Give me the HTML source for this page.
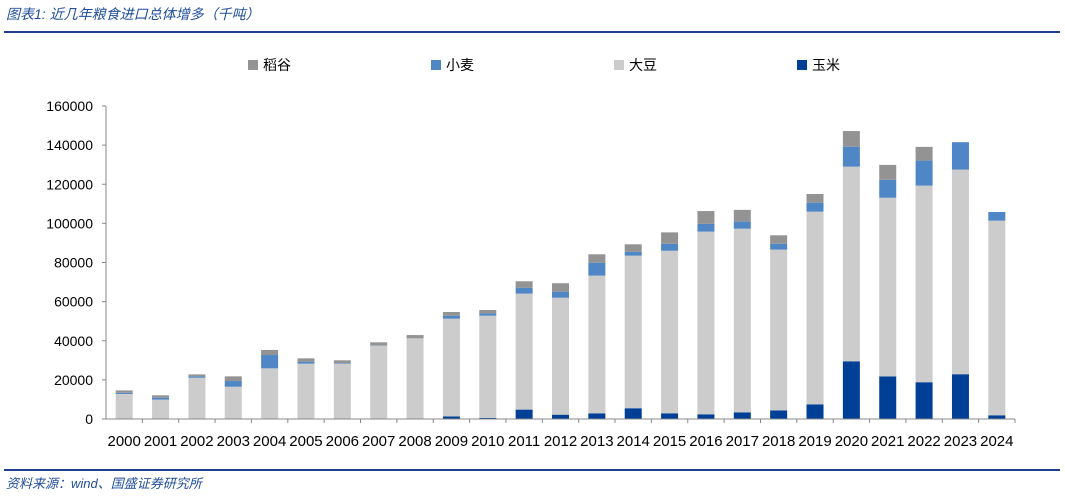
<!DOCTYPE html>
<html><head><meta charset="utf-8"><style>
body{margin:0;background:#fff;width:1065px;height:496px;overflow:hidden;font-family:"Liberation Sans","Noto Sans CJK SC",sans-serif}
svg{display:block}
</style></head><body>
<svg width="1065" height="496">
<text x="6" y="19" font-size="14" font-style="italic" fill="#1F4E9A" font-family="Liberation Sans,Noto Sans CJK SC,sans-serif">图表1: 近几年粮食进口总体增多（千吨）</text>
<line x1="4" y1="32" x2="1060" y2="32" stroke="#1F3F8F" stroke-width="2"/>
<line x1="4" y1="470" x2="1060" y2="470" stroke="#1F3F8F" stroke-width="2"/>
<text x="6" y="488" font-size="13" font-style="italic" fill="#1F4E9A" font-family="Liberation Sans,Noto Sans CJK SC,sans-serif">资料来源：wind、国盛证券研究所</text>
<g id="legend"></g>
<g id="plot"></g>
</svg>
<script>
const years=["2000","2001","2002","2003","2004","2005","2006","2007","2008","2009","2010","2011","2012","2013","2014","2015","2016","2017","2018","2019","2020","2021","2022","2023","2024"];
const corn=[0,0,0,0,0,0,0,0,0,1.3,0.6,4.8,2.2,2.9,5.5,2.9,2.4,3.4,4.4,7.5,29.5,21.8,18.8,22.9,1.9];
const soy=[12.8,9.9,21.1,16.5,25.9,28.3,28.3,37.5,41.2,50.0,52.2,59.3,59.8,70.4,78.0,83.1,93.4,93.9,82.2,98.5,99.5,91.3,100.5,104.6,99.5];
const wheat=[0.6,1.0,0.7,2.9,6.8,1.0,0.3,0.1,0.1,1.5,1.2,3.0,3.1,6.6,2.0,3.6,4.0,3.6,3.0,4.6,10.2,9.2,12.8,14.0,4.4];
const rice=[1.2,1.2,1.0,2.4,2.6,1.7,1.4,1.6,1.6,1.9,1.7,3.3,4.3,4.3,3.8,5.8,6.5,6.0,4.3,4.4,8.0,7.6,7.0,0,0];
const yTicks=[0,20000,40000,60000,80000,100000,120000,140000,160000];
const NS="http://www.w3.org/2000/svg";
const X0=106,X1=1015,Y0=419,Y1=106,YMAX=160000;
const bw=(X1-X0)/years.length;
const y=v=>Y0-(v*1000)/YMAX*(Y0-Y1);
const x=i=>X0+bw*(i+0.5);
const plot=document.getElementById('plot');
function mk(tag,attrs,parent){const e=document.createElementNS(NS,tag);for(const k in attrs)e.setAttribute(k,attrs[k]);parent.appendChild(e);return e;}
yTicks.forEach(t=>{
 const yy=Y0-t/YMAX*(Y0-Y1);
 const tl=mk('text',{x:93,y:yy+5,'font-size':14,'text-anchor':'end',fill:'#000'},plot);
 tl.textContent=t;
 
 
 const tk=mk('line',{x1:X0-4,x2:X0,y1:yy,y2:yy,stroke:'#888'},plot);
 
 
});
const series=[["corn",corn,"#003F96"],["soy",soy,"#CCCCCC"],["wheat",wheat,"#4F86C6"],["rice",rice,"#939393"]];
years.forEach((yr,i)=>{
 let acc=0;
 series.forEach(([nm,arr,col])=>{
  const v=arr[i];if(v<=0)return;
  const r=mk('rect',{x:x(i)-8.5,y:y(acc+v),width:17,height:y(acc)-y(acc+v),fill:col},plot);
  
  
  acc+=v;
 });
 const l=mk('text',{x:x(i),y:446,'font-size':15,'text-anchor':'middle',fill:'#000'},plot);
 l.textContent=yr;
 
 
 const tk=mk('line',{x1:X0+bw*(i+1),x2:X0+bw*(i+1),y1:Y0,y2:Y0+4,stroke:'#888'},plot);
 
 
});
const ax=mk('line',{x1:X0,x2:X0,y1:Y1,y2:Y0,stroke:'#888'},plot);


const bx=mk('line',{x1:X0,x2:X1,y1:Y0,y2:Y0,stroke:'#888'},plot);


const lg=document.getElementById('legend');
[["稻谷","#939393",248],["小麦","#4F86C6",431],["大豆","#CCCCCC",614],["玉米","#003F96",797]].forEach(([t,c,lx])=>{
 const s=mk('rect',{x:lx,y:60,width:10,height:10,fill:c},lg);
 
 
 const tx=mk('text',{x:lx+15,y:70,'font-size':14,fill:'#000'},lg);
 tx.textContent=t;
 
 
});
</script>
</body></html>
